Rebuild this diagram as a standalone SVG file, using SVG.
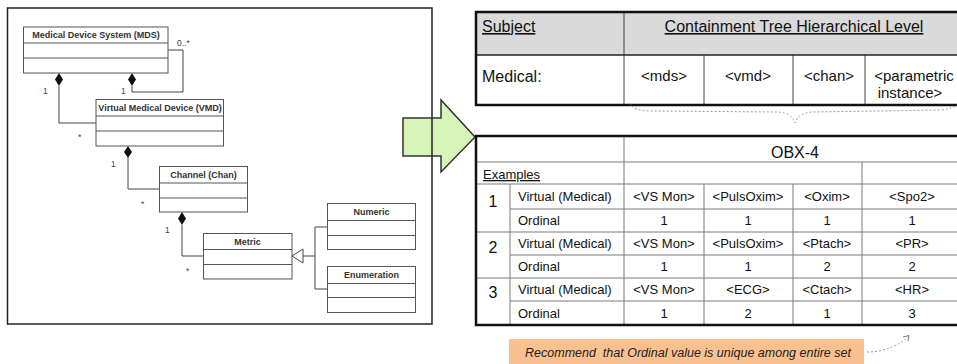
<svg xmlns="http://www.w3.org/2000/svg" width="957" height="364" viewBox="0 0 957 364">
<style>
.cls{fill:#fff;stroke:#555;stroke-width:1}
.div{stroke:#555;stroke-width:1}
.ttl{font-family:"Liberation Sans",Arial,sans-serif;font-size:9px;font-weight:bold;fill:#333;text-anchor:middle}
.mul{font-family:"Liberation Sans",Arial,sans-serif;font-size:8.5px;fill:#444}
.con{fill:none;stroke:#444;stroke-width:1}
.dia{fill:#111;stroke:none}
.hd{font-family:"Liberation Sans",Arial,sans-serif;font-size:16px;fill:#111}
.ct{font-family:"Liberation Sans",Arial,sans-serif;font-size:15px;fill:#111;text-anchor:middle}
.bt{font-family:"Liberation Sans",Arial,sans-serif;font-size:13px;fill:#111}
.bc{font-family:"Liberation Sans",Arial,sans-serif;font-size:13px;fill:#111;text-anchor:middle}
.num{font-family:"Liberation Sans",Arial,sans-serif;font-size:16px;fill:#111;text-anchor:middle}
.gl{stroke:#7a7a7a;stroke-width:1}
.dl{stroke:#444;stroke-width:1}
.outer{fill:none;stroke:#111;stroke-width:2.5}
.dot{fill:none;stroke:#999;stroke-width:1;stroke-dasharray:2 2}
</style>

<rect x="0" y="0" width="957" height="364" fill="#fff"/>

<!-- Green arrow -->
<g id="arrow">
<polygon points="403,118 441,118 441,100 475,137 441,172 441,156 403,156" fill="#d8f5b9" stroke="#333" stroke-width="1.5"/>
</g>

<!-- UML frame -->
<g id="frame">
<rect x="7.5" y="8" width="424.5" height="316" fill="none" stroke="#222" stroke-width="1.5"/>
</g>

<!-- Connectors -->
<g id="connectors">
<polyline class="con" points="59,86 59,123 96,123"/>
<polyline class="con" points="168,50 183,50 183,92 132,92 132,86"/>
<polyline class="con" points="128,158 128,189 159,189"/>
<polyline class="con" points="182,225 182,256 203,256"/>
<polyline class="con" points="303,256 315,256"/>
<polyline class="con" points="327,227 315,227 315,289 327,289"/>
<polygon points="292,256 303,249 303,263" fill="#fff" stroke="#444" stroke-width="1"/>
<polygon class="dia" points="59,73 63,79.5 59,86 55,79.5"/>
<polygon class="dia" points="132,73 136,79.5 132,86 128,79.5"/>
<polygon class="dia" points="128,146 132,152 128,158 124,152"/>
<polygon class="dia" points="182,212 186,218.5 182,225 178,218.5"/>
<text class="mul" x="177" y="46">0..*</text>
<text class="mul" x="43" y="94">1</text>
<text class="mul" x="121" y="94">1</text>
<text class="mul" x="78" y="140">*</text>
<text class="mul" x="111" y="167">1</text>
<text class="mul" x="141" y="207">*</text>
<text class="mul" x="165" y="233">1</text>
<text class="mul" x="186" y="274">*</text>
</g>

<g id="mds">
<rect class="cls" x="23.5" y="27" width="144.5" height="46"/>
<line class="div" x1="23.5" y1="43" x2="168" y2="43"/>
<line class="div" x1="23.5" y1="58" x2="168" y2="58"/>
<text class="ttl" x="96" y="38">Medical Device System (MDS)</text>
</g>
<g id="vmd">
<rect class="cls" x="96" y="99.5" width="127.5" height="46.5"/>
<line class="div" x1="96" y1="116" x2="223.5" y2="116"/>
<line class="div" x1="96" y1="131" x2="223.5" y2="131"/>
<text class="ttl" x="160" y="111">Virtual Medical Device (VMD)</text>
</g>
<g id="chan">
<rect class="cls" x="159.5" y="166.5" width="88" height="45.5"/>
<line class="div" x1="159.5" y1="183" x2="247.5" y2="183"/>
<line class="div" x1="159.5" y1="198" x2="247.5" y2="198"/>
<text class="ttl" x="203.5" y="178">Channel (Chan)</text>
</g>
<g id="metric">
<rect class="cls" x="203.5" y="233.5" width="88.5" height="45.5"/>
<line class="div" x1="203.5" y1="249.5" x2="292" y2="249.5"/>
<line class="div" x1="203.5" y1="264.5" x2="292" y2="264.5"/>
<text class="ttl" x="247.5" y="245">Metric</text>
</g>
<g id="numeric">
<rect class="cls" x="327.5" y="203.5" width="88" height="46"/>
<line class="div" x1="327.5" y1="220.5" x2="415.5" y2="220.5"/>
<line class="div" x1="327.5" y1="235.5" x2="415.5" y2="235.5"/>
<text class="ttl" x="371.5" y="215">Numeric</text>
</g>
<g id="enumeration">
<rect class="cls" x="327.5" y="266.5" width="88" height="46"/>
<line class="div" x1="327.5" y1="283.5" x2="415.5" y2="283.5"/>
<line class="div" x1="327.5" y1="297.5" x2="415.5" y2="297.5"/>
<text class="ttl" x="371.5" y="278">Enumeration</text>
</g>

<!-- Upper table -->
<g id="upper-table">
<rect x="476" y="12" width="490" height="43" fill="#dadada"/>
<rect x="476" y="55" width="490" height="50" fill="#fff"/>
<line class="dl" x1="624" y1="12" x2="624" y2="105"/>
<line class="dl" x1="704" y1="55" x2="704" y2="105"/>
<line class="dl" x1="793" y1="55" x2="793" y2="105"/>
<line class="dl" x1="865" y1="55" x2="865" y2="105"/>
<line x1="476" y1="55" x2="966" y2="55" stroke="#222" stroke-width="1.5"/>
<rect class="outer" x="476" y="12" width="490" height="93"/>
<text class="hd" x="482" y="32" text-decoration="underline">Subject</text>
<text class="hd" x="794" y="32" text-anchor="middle" text-decoration="underline">Containment Tree Hierarchical Level</text>
<text class="hd" x="482" y="82">Medical:</text>
<text class="ct" x="664" y="81">&lt;mds&gt;</text>
<text class="ct" x="748" y="81">&lt;vmd&gt;</text>
<text class="ct" x="829" y="81">&lt;chan&gt;</text>
<text class="ct" x="914" y="81" font-size="16">&lt;parametric</text>
<text class="ct" x="910" y="98" font-size="16">instance&gt;</text>
</g>

<!-- Brace -->
<g id="brace">
<path class="dot" d="M629,103 Q634,111 652,111 L778,112 Q792,113 795,123 Q798,113 812,112 L940,110 Q953,109 958,104"/>
</g>

<!-- Lower table -->
<g id="lower-table">
<rect x="476" y="136" width="490" height="189" fill="#fff"/>
<line class="gl" x1="476" y1="162" x2="966" y2="162"/>
<line class="gl" x1="476" y1="184" x2="966" y2="184"/>
<line class="gl" x1="510" y1="209" x2="966" y2="209"/>
<line class="gl" x1="476" y1="232" x2="966" y2="232"/>
<line class="gl" x1="510" y1="255" x2="966" y2="255"/>
<line class="gl" x1="476" y1="278" x2="966" y2="278"/>
<line class="gl" x1="510" y1="301" x2="966" y2="301"/>
<line class="gl" x1="510" y1="184" x2="510" y2="325"/>
<line class="gl" x1="624" y1="136" x2="624" y2="325"/>
<line class="gl" x1="704" y1="184" x2="704" y2="325"/>
<line class="gl" x1="793" y1="184" x2="793" y2="325"/>
<line class="gl" x1="862" y1="162" x2="862" y2="325"/>
<rect class="outer" x="476" y="136" width="490" height="189"/>
<text class="hd" x="795" y="158" text-anchor="middle" font-size="15.5">OBX-4</text>
<text class="bt" x="483" y="179" text-decoration="underline">Examples</text>
<text class="num" x="493" y="207">1</text>
<text class="num" x="493" y="253">2</text>
<text class="num" x="493" y="298">3</text>
<text class="bt" x="518" y="201">Virtual (Medical)</text>
<text class="bt" x="518" y="225">Ordinal</text>
<text class="bt" x="518" y="248">Virtual (Medical)</text>
<text class="bt" x="518" y="271">Ordinal</text>
<text class="bt" x="518" y="294">Virtual (Medical)</text>
<text class="bt" x="518" y="318">Ordinal</text>
<text class="bc" x="664" y="201">&lt;VS Mon&gt;</text>
<text class="bc" x="748" y="201">&lt;PulsOxim&gt;</text>
<text class="bc" x="827" y="201">&lt;Oxim&gt;</text>
<text class="bc" x="912" y="201">&lt;Spo2&gt;</text>
<text class="bc" x="664" y="225">1</text>
<text class="bc" x="748" y="225">1</text>
<text class="bc" x="827" y="225">1</text>
<text class="bc" x="912" y="225">1</text>
<text class="bc" x="664" y="248">&lt;VS Mon&gt;</text>
<text class="bc" x="748" y="248">&lt;PulsOxim&gt;</text>
<text class="bc" x="827" y="248">&lt;Ptach&gt;</text>
<text class="bc" x="912" y="248">&lt;PR&gt;</text>
<text class="bc" x="664" y="271">1</text>
<text class="bc" x="748" y="271">1</text>
<text class="bc" x="827" y="271">2</text>
<text class="bc" x="912" y="271">2</text>
<text class="bc" x="664" y="294">&lt;VS Mon&gt;</text>
<text class="bc" x="748" y="294">&lt;ECG&gt;</text>
<text class="bc" x="827" y="294">&lt;Ctach&gt;</text>
<text class="bc" x="912" y="294">&lt;HR&gt;</text>
<text class="bc" x="664" y="318">1</text>
<text class="bc" x="748" y="318">2</text>
<text class="bc" x="827" y="318">1</text>
<text class="bc" x="912" y="318">3</text>
</g>

<!-- Note -->
<g id="note">
<rect x="509" y="339" width="355" height="26" fill="#fac090"/>
<text x="688" y="357" font-family="'Liberation Sans',Arial,sans-serif" font-size="12.5" font-style="italic" fill="#222" text-anchor="middle" xml:space="preserve">Recommend  that Ordinal value is unique among entire set</text>
<path class="dot" d="M867,352 Q890,352 908,337"/>
<polyline points="903,337 909,335.5 908,341" fill="none" stroke="#777" stroke-width="1"/>
</g>
</svg>
